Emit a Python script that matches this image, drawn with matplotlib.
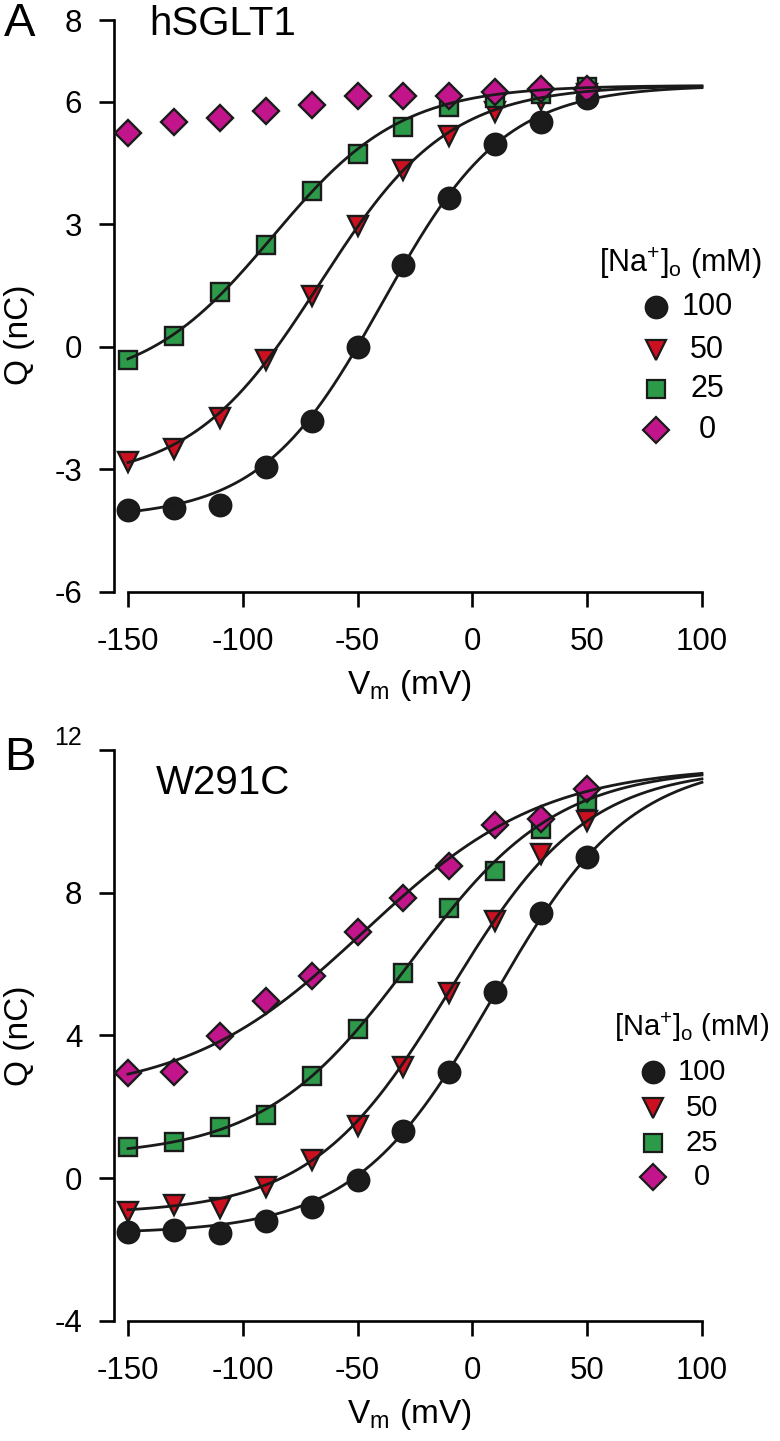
import numpy as np
import matplotlib.pyplot as plt

plt.rcParams['font.family'] = ['Liberation Sans', 'DejaVu Sans']
plt.rcParams['mathtext.fontset'] = 'custom'
plt.rcParams['mathtext.rm'] = 'Liberation Sans'
plt.rcParams['mathtext.it'] = 'Liberation Sans:italic'
plt.rcParams['axes.unicode_minus'] = False

# membrane potentials (mV)
vm = [-150, -130, -110, -90, -70, -50, -30, -10, 10, 30, 50]
na_labels = ['100', '50', '25', '0']

# panel A: hSGLT1, charge (nC)
qa_100 = [-4.0, -3.95, -3.87, -2.94, -1.81, 0.0, 2.0, 3.65, 4.97, 5.5, 6.1]
qa_50 = [-2.82, -2.5, -1.74, -0.32, 1.25, 2.97, 4.34, 5.17, 5.76, 6.05, 6.2]
qa_25 = [-0.32, 0.27, 1.35, 2.5, 3.82, 4.73, 5.37, 5.88, 6.1, 6.2, 6.37]
qa_0 = [5.24, 5.51, 5.59, 5.78, 5.93, 6.13, 6.13, 6.13, 6.25, 6.32, 6.32]

# panel B: W291C, charge (nC)
qb_100 = [-1.52, -1.46, -1.54, -1.2, -0.8, -0.06, 1.32, 2.98, 5.22, 7.43, 9.0]
qb_50 = [-0.95, -0.76, -0.83, -0.26, 0.52, 1.46, 3.12, 5.2, 7.22, 9.07, 10.0]
qb_25 = [0.87, 1.01, 1.43, 1.77, 2.87, 4.18, 5.76, 7.56, 8.62, 9.78, 10.56]
qb_0 = [2.95, 2.98, 3.99, 4.97, 5.67, 6.91, 7.84, 8.74, 9.89, 10.06, 10.9]

# Boltzmann fit lines: Qmin, Qmax, V0.5 (mV), slope (mV)
fit_a_100 = [-4.2, 6.4, -39, 26.5]
fit_a_50 = [-3.3, 6.4, -66.5, 28]
fit_a_25 = [-1.0, 6.4, -87, 28]
fit_b_100 = [-1.55, 11.7, 9, 30]
fit_b_50 = [-1.0, 11.5, -10, 30]
fit_b_25 = [0.6, 11.5, -27, 32]
fit_b_0 = [2.3, 11.55, -47, 39]

styles = [
    dict(marker='o', mfc='#1b1b1b', ms=15.5),
    dict(marker='v', mfc='#cc1020', ms=14.5),
    dict(marker='s', mfc='#2d9a4a', ms=13),
    dict(marker='D', mfc='#c2158b', ms=13.5),
]


def boltz(v, p):
    qmin, qmax, v05, s = p
    return qmin + (qmax - qmin) / (1 + np.exp(-(v - v05) / s))


def panel(ax, series, fits, ylim, yticks):
    for q, st in zip(series, styles):
        ax.plot(vm, q, ls='none', mec='#1a1a1a', mew=1.7, zorder=3, **st)
    vv = np.linspace(-150, 100, 300)
    for p in fits:
        ax.plot(vv, boltz(vv, p), color='#1a1a1a', lw=2.0, zorder=4)
    ax.set_xlim(-156, 101)
    ax.set_ylim(*ylim)
    ax.set_xticks([-150, -100, -50, 0, 50, 100])
    ax.set_yticks(yticks)
    for s in ['top', 'right']:
        ax.spines[s].set_visible(False)
    ax.spines['left'].set_bounds(ylim[0], ylim[1])
    ax.spines['bottom'].set_bounds(-150, 100)
    ax.spines['left'].set_linewidth(1.9)
    ax.spines['bottom'].set_linewidth(1.9)
    ax.tick_params(axis='y', direction='out', length=11, width=1.9, pad=12, labelsize=22.5)
    ax.tick_params(axis='x', direction='out', length=11, width=1.9, pad=14, labelsize=22.5)
    ax.set_xlabel(r'V$_\mathrm{m}$ (mV)', fontsize=24, labelpad=8)
    ax.set_ylabel('Q (nC)', fontsize=24)


def legend(fig, title_xy, rows_y, mx, lx, fs):
    fig.text(title_xy[0] / 780, 1 - title_xy[1] / 1441,
             r'[Na$^\mathrm{+}$]$_\mathrm{o}$ (mM)', fontsize=fs,
             ha='center', va='center')
    for lab, st, y in zip(na_labels, styles, rows_y):
        fig.lines.append(plt.Line2D([mx / 780], [1 - y / 1441], transform=fig.transFigure,
                                    ls='none', mec='#1a1a1a', mew=1.6, **st))
        fig.text(lx / 780, 1 - y / 1441, lab, fontsize=fs, ha='center', va='center')


fig = plt.figure(figsize=(7.8, 14.41), dpi=100)
ax1 = fig.add_axes([0.1464, 0.5892, 0.7565, 0.3969])
ax2 = fig.add_axes([0.1464, 0.0833, 0.7565, 0.3963])

panel(ax1, [qa_100, qa_50, qa_25, qa_0], [fit_a_100, fit_a_50, fit_a_25],
      (-6, 8), [-6, -3, 0, 3, 6, 8])
panel(ax2, [qb_100, qb_50, qb_25, qb_0], [fit_b_100, fit_b_50, fit_b_25, fit_b_0],
      (-4, 12), [-4, 0, 4, 8, 12])
ax2.get_yticklabels()[-1].set_fontsize(18)
ax2.get_yticklabels()[-1].set_verticalalignment('bottom')

ax1.yaxis.set_label_coords(-0.135, 0.45)
ax2.yaxis.set_label_coords(-0.135, 0.5)

fig.text(149 / 780, 1 - 24 / 1441, 'hSGLT1', fontsize=29, ha='left', va='center')
fig.text(156 / 780, 1 - 783 / 1441, 'W291C', fontsize=29, ha='left', va='center')
fig.text(4 / 780, 1 - 24 / 1441, 'A', fontsize=34, ha='left', va='center')
fig.text(4 / 780, 1 - 758 / 1441, 'B', fontsize=34, ha='left', va='center')

legend(fig, (680, 263), [307, 350, 389, 430], 656, 707, 22)
legend(fig, (692, 1027), [1072, 1108, 1143, 1177], 653, 702, 21)

fig.savefig('out.png', dpi=100)
